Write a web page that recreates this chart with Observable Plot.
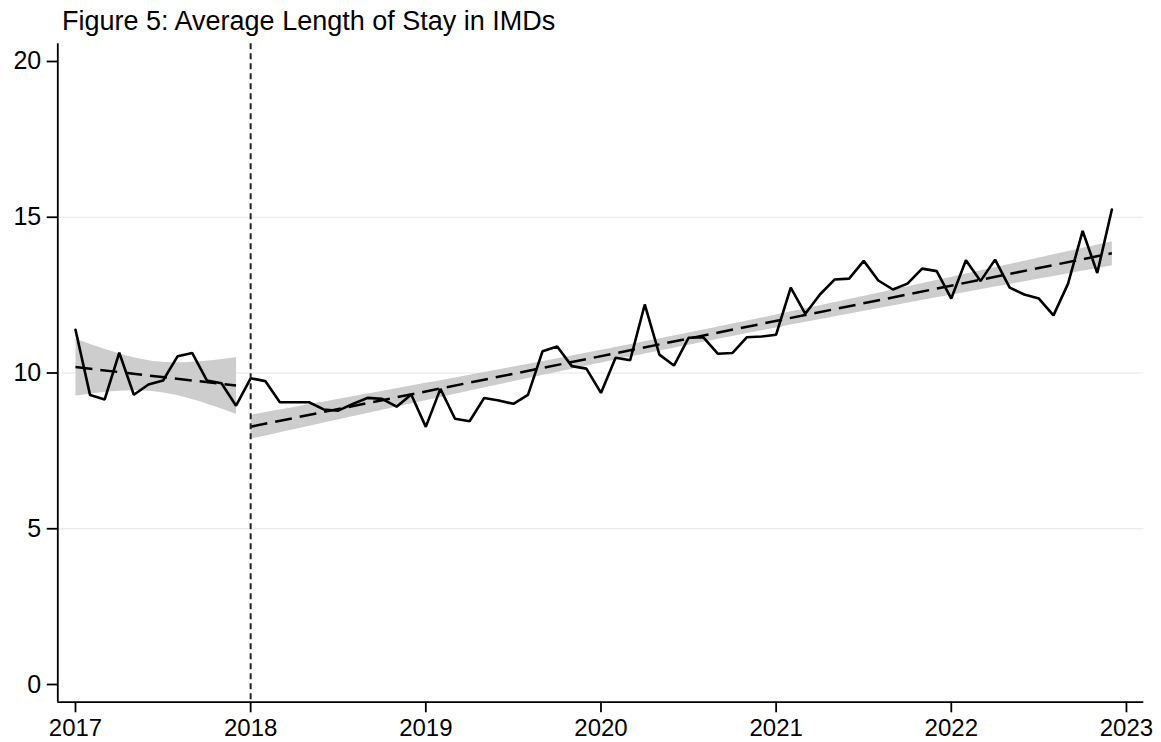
<!DOCTYPE html>
<html>
<head>
<meta charset="utf-8">
<script src="https://cdn.jsdelivr.net/npm/d3@7"></script>
<script src="https://cdn.jsdelivr.net/npm/@observablehq/plot@0.6"></script>
<style>
  html, body { margin: 0; padding: 0; background: #fff; }
  #wrap { position: relative; width: 1161px; height: 742px; }
  #title {
    position: absolute; left: 62px; top: 8px; line-height: 1;
    font-family: "Liberation Sans", Arial, Helvetica, sans-serif;
    font-size: 27px; letter-spacing: 0px; color: #000; white-space: nowrap;
  }
  #chart svg { display: block; }
</style>
</head>
<body>
<div id="wrap">
  <div id="chart"></div>
  <div id="title">Figure 5: Average Length of Stay in IMDs</div>
</div>
<script>
// ---- data ----
const startYear = 2017;            // first month: January 2017, monthly series
const policyYear = 2018;           // vertical dashed line / trend break
const xTickYears = [2017, 2018, 2019, 2020, 2021, 2022, 2023];
const yTickValues = [0, 5, 10, 15, 20];
const yGridValues = [5, 10, 15];

// Average length of stay, Jan 2017 – Dec 2017
const pre2018 = [11.39, 9.29, 9.15, 10.65, 9.30, 9.63, 9.76, 10.54, 10.64, 9.76, 9.67, 8.95];
// Average length of stay, Jan 2018 – Dec 2022
const post2018 = [
  9.83, 9.74, 9.06, 9.06, 9.06, 8.83, 8.79, 9.01, 9.20, 9.17, 8.92, 9.31,
  8.27, 9.49, 8.53, 8.45, 9.20, 9.12, 9.01, 9.30, 10.70, 10.85, 10.22, 10.14,
  9.36, 10.49, 10.41, 12.20, 10.59, 10.24, 11.13, 11.15, 10.62, 10.64, 11.15, 11.17,
  11.23, 12.74, 11.90, 12.52, 13.00, 13.03, 13.60, 12.97, 12.68, 12.87, 13.35, 13.27,
  12.39, 13.62, 12.95, 13.64, 12.74, 12.52, 12.39, 11.85, 12.87, 14.56, 13.21, 15.25
];

// ---- build table ----
const values = pre2018.concat(post2018);
const data = values.map((v, i) => ({
  t: startYear + i / 12,
  los: v,
  period: i < pre2018.length ? "pre" : "post"
}));

const xDomain = [2016.899, 2023.099];
const yDomain = [-0.568, 20.568];
const font = '"Liberation Sans", Arial, Helvetica, sans-serif';

const chart = Plot.plot({
  width: 1161,
  height: 742,
  marginLeft: 57.3,
  marginRight: 17.7,
  marginTop: 43.3,
  marginBottom: 40.3,
  style: { fontFamily: font, fontSize: "24px", color: "#000", background: "#fff", overflow: "visible" },
  x: { domain: xDomain, label: null },
  y: { domain: yDomain, label: null },
  marks: [
    Plot.ruleY(yGridValues, { stroke: "#e6e6e6", strokeWidth: 1 }),
    Plot.linearRegressionY(data, {
      x: "t", y: "los", z: "period",
      ci: 0.95,
      stroke: "#000", strokeWidth: 2.5, strokeDasharray: "17,8", strokeLinecap: "butt",
      fill: "#cdcdcd", fillOpacity: 1
    }),
    Plot.line(data, { x: "t", y: "los", stroke: "#000", strokeWidth: 2.6, strokeLinejoin: "miter" }),
    Plot.ruleX([policyYear], { stroke: "#222", strokeWidth: 2, strokeDasharray: "6,4" }),
    Plot.ruleX([xDomain[0]], { stroke: "#000", strokeWidth: 1.8 }),
    Plot.ruleY([yDomain[0]], { stroke: "#000", strokeWidth: 1.8 }),
    Plot.axisX({
      ticks: xTickYears, tickFormat: "d", tickSize: 10.6, tickPadding: 6,
      fontSize: "24px", strokeWidth: 1.8, label: null
    }),
    Plot.axisY({
      ticks: yTickValues, tickFormat: "d", tickSize: 10.6, tickPadding: 6,
      fontSize: "25px", strokeWidth: 1.8, label: null
    })
  ]
});
document.getElementById("chart").appendChild(chart);
</script>
</body>
</html>
